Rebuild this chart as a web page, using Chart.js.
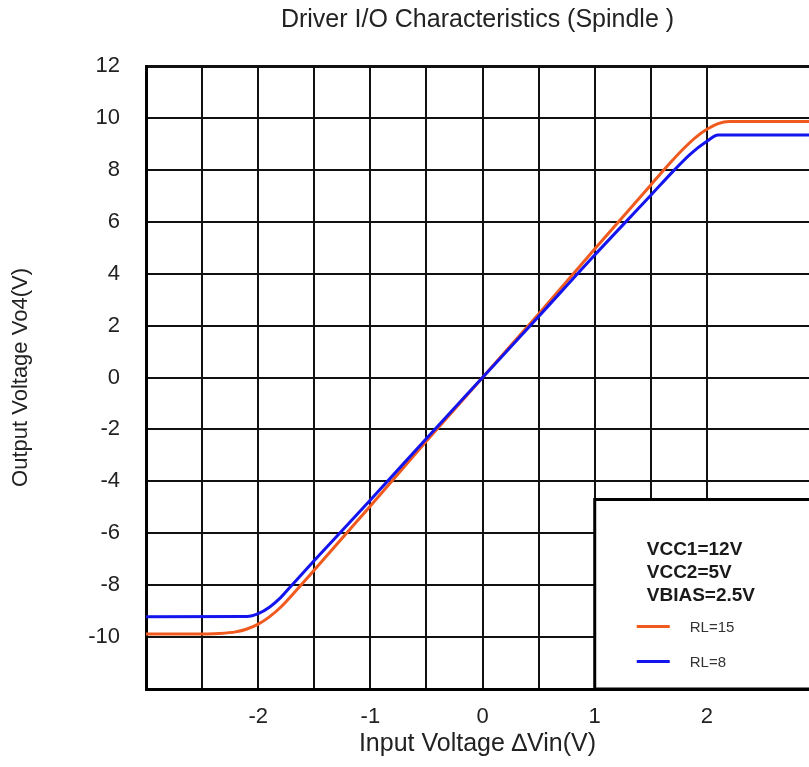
<!DOCTYPE html>
<html>
<head>
<meta charset="utf-8">
<script src="https://cdn.jsdelivr.net/npm/chart.js@4.4.1/dist/chart.umd.min.js"></script>
<style>
  html, body { margin: 0; padding: 0; background: #fff; overflow: hidden; }
  #wrap { width: 809px; height: 767px; }
</style>
</head>
<body>
<div id="wrap"><canvas id="c"></canvas></div>
<script>
// ---- data ----
const titleText = 'Driver I/O Characteristics (Spindle )';
const xTitle = 'Input Voltage \u2206Vin(V)';
const yTitle = 'Output Voltage Vo4(V)';

const seriesLabels = ['RL=15', 'RL=8'];
const seriesColors = ['#F05A1E', '#1414EE'];

const xRL15 = [-3.0, -2.6, -2.35, -2.2, -2.1, -2.0, -1.9, -1.8, -1.65, -1.5, -1.0, -0.5, 0, 0.5, 1.0, 1.5, 1.6, 1.7, 1.8, 1.9, 2.0, 2.1, 2.2, 2.91];
const yRL15 = [-9.88, -9.88, -9.86, -9.8, -9.69, -9.5, -9.22, -8.85, -8.15, -7.42, -4.95, -2.45, 0, 2.45, 4.95, 7.42, 7.92, 8.4, 8.85, 9.25, 9.56, 9.78, 9.86, 9.86];

const xRL8 = [-3.0, -2.1, -2.0, -1.9, -1.8, -1.7, -1.5, -1.0, -0.5, 0, 0.5, 1.0, 1.5, 1.7, 1.85, 2.0, 2.1, 2.91];
const yRL8 = [-9.22, -9.21, -9.1, -8.85, -8.48, -8.0, -7.05, -4.72, -2.35, 0, 2.35, 4.72, 7.02, 7.95, 8.6, 9.1, 9.34, 9.34];

const conditionLines = ['VCC1=12V', 'VCC2=5V', 'VBIAS=2.5V'];
const boxCorner = [1.0, -4.7]; // data coords of the conditions box top-left

const xMin = -3, xMax = 2.91, xStep = 0.5;
const yMin = -12, yMax = 12, yStep = 2;

// ---- build ----
const FONT = "'Liberation Sans', Arial, sans-serif";
function pts(xs, ys) { return xs.map((v, i) => ({ x: v, y: ys[i] })); }

const boxPlugin = {
  id: 'condBox',
  afterDatasetsDraw(chart) {
    const { ctx, chartArea, scales } = chart;
    const left = scales.x.getPixelForValue(boxCorner[0]);
    const top = scales.y.getPixelForValue(boxCorner[1]);
    const right = chartArea.right + 10;
    const bottom = chartArea.bottom;
    ctx.save();
    ctx.fillStyle = '#fff';
    ctx.fillRect(left, top, right - left, bottom - top);
    ctx.lineWidth = 3;
    ctx.strokeStyle = '#000';
    ctx.strokeRect(left, top, right - left, bottom - top);
    ctx.fillStyle = '#1a1a1a';
    ctx.font = 'bold 19px ' + FONT;
    ctx.textBaseline = 'middle';
    ctx.textAlign = 'left';
    conditionLines.forEach((t, i) => ctx.fillText(t, left + 52, top + 50 + i * 23));
    chart.data.datasets.forEach((ds, i) => {
      const yy = top + 127 + i * 35;
      ctx.strokeStyle = ds.borderColor;
      ctx.lineWidth = 3;
      ctx.beginPath();
      ctx.moveTo(left + 42, yy);
      ctx.lineTo(left + 75, yy);
      ctx.stroke();
      ctx.fillStyle = '#333';
      ctx.font = '15px ' + FONT;
      ctx.fillText(ds.label, left + 95, yy + 1);
    });
    ctx.restore();
  }
};

new Chart(document.getElementById('c'), {
  type: 'line',
  data: {
    datasets: [
      { label: seriesLabels[0], data: pts(xRL15, yRL15), borderColor: seriesColors[0], borderWidth: 3, pointRadius: 0, cubicInterpolationMode: 'monotone', order: 1 },
      { label: seriesLabels[1], data: pts(xRL8, yRL8), borderColor: seriesColors[1], borderWidth: 3, pointRadius: 0, cubicInterpolationMode: 'monotone', order: 0 }
    ]
  },
  options: {
    responsive: true,
    maintainAspectRatio: false,
    animation: false,
    layout: { padding: 0 },
    plugins: {
      legend: { display: false },
      tooltip: { enabled: false },
      title: {
        display: true, text: titleText, fullSize: false, color: '#222',
        font: { family: FONT, size: 25, weight: 'normal' },
        padding: { top: 5, bottom: 31 }
      }
    },
    scales: {
      x: {
        type: 'linear', min: xMin, max: xMax,
        afterBuildTicks(s) { s.ticks = s.ticks.filter(t => Math.abs(t.value / xStep - Math.round(t.value / xStep)) < 1e-6); },
        afterFit(s) { s.height = 78; },
        ticks: {
          stepSize: xStep, autoSkip: false, maxRotation: 0, padding: 15, color: '#222',
          font: { family: FONT, size: 22 },
          callback: v => (Number.isInteger(v) && v !== xMin) ? String(v) : ''
        },
        grid: { color: '#111', lineWidth: 2, drawTicks: false },
        border: { display: true, color: '#000', width: 3 },
        title: { display: true, text: xTitle, color: '#222', font: { family: FONT, size: 25 }, padding: { top: 0, bottom: 8 } }
      },
      y: {
        type: 'linear', min: yMin, max: yMax,
        afterFit(s) { s.width = 146; },
        ticks: {
          stepSize: yStep, autoSkip: false, padding: 26, color: '#222',
          font: { family: FONT, size: 22 },
          callback: v => v === yMin ? '' : String(v)
        },
        grid: { color: '#111', lineWidth: c => (c.tick && c.tick.value === yMax) ? 3 : 2, drawTicks: false },
        border: { display: true, color: '#000', width: 3 },
        title: { display: true, text: yTitle, color: '#222', font: { family: FONT, size: 22 }, padding: { top: 8, bottom: 0 } }
      }
    }
  },
  plugins: [boxPlugin]
});
</script>
</body>
</html>
